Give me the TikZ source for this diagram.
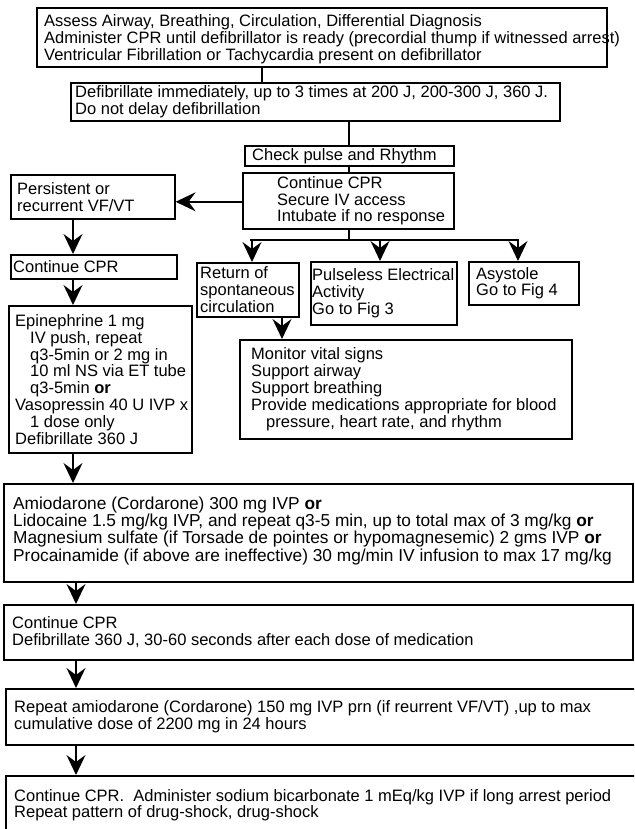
\documentclass[tikz,border=0pt]{standalone}
\usepackage{fontspec}
\setmainfont{Liberation Sans}
\usetikzlibrary{arrows.meta}
\tikzset{
  box/.style={draw, line width=1.6pt, rectangle, anchor=north west, inner sep=0pt},
  txt/.style={anchor=west, align=left, inner sep=0pt, font=\fontsize{16.5}{16.8}\selectfont},
  bigtxt/.style={txt, font=\fontsize{17.3}{17.2}\selectfont},
  ln/.style={line width=1.6pt},
  arr/.style={line width=1.6pt, -{Stealth[length=20pt,width=19pt,inset=7pt]}}
}
\begin{document}
\begin{tikzpicture}[x=1pt,y=-1pt]
\useasboundingbox (0,0) rectangle (634,829);
\clip (0,0) rectangle (634,829);
% boxes
\node[box, minimum width=570pt, minimum height=59pt] (assess) at (36,7) {};
\node[box, minimum width=489pt, minimum height=38pt] (defib) at (70,82) {};
\node[box, minimum width=209pt, minimum height=20pt] (check) at (244,145) {};
\node[box, minimum width=211pt, minimum height=56pt] (cont) at (242,172) {};
\node[box, minimum width=164pt, minimum height=44pt] (persist) at (10,174) {};
\node[box, minimum width=166pt, minimum height=24pt] (cprL) at (10,254) {};
\node[box, minimum width=183pt, minimum height=147pt] (epi) at (8,305) {};
\node[box, minimum width=629pt, minimum height=98pt] (amio) at (3,483) {};
\node[box, minimum width=629pt, minimum height=55pt] (cpr2) at (3,604) {};
\node[box, minimum width=640pt, minimum height=56pt] (rep) at (5,688) {};
\node[box, minimum width=640pt, minimum height=70pt] (last) at (5,775) {};
\node[box, minimum width=102pt, minimum height=54pt] (ret) at (196,262) {};
\node[box, minimum width=146pt, minimum height=63pt] (pea) at (310,261) {};
\node[box, minimum width=110pt, minimum height=43pt] (asys) at (468,261) {};
\node[box, minimum width=332pt, minimum height=99pt] (mon) at (239,339) {};
% texts
\node[txt] (tassess) at ([xshift=8pt,yshift=-2pt]assess.west) {Assess Airway, Breathing, Circulation, Differential Diagnosis\\Administer CPR until defibrillator is ready (precordial thump if witnessed arrest)\\Ventricular Fibrillation or Tachycardia present on defibrillator};
\node[txt] (tdefib) at ([xshift=5pt]defib.west) {Defibrillate immediately, up to 3 times at 200 J, 200-300 J, 360 J.\\Do not delay defibrillation};
\node[txt] (tcheck) at ([xshift=8pt]check.west) {Check pulse and Rhythm};
\node[txt] (tcont) at ([xshift=35pt]cont.west) {Continue CPR\\Secure IV access\\Intubate if no response};
\node[txt] (tpersist) at ([xshift=7pt]persist.west) {Persistent or\\recurrent VF/VT};
\node[txt] (tcprL) at ([xshift=3pt]cprL.west) {Continue CPR};
\node[txt] (tepi) at ([xshift=7pt]epi.west) {Epinephrine 1 mg\\\hspace*{15pt}IV push, repeat\\\hspace*{15pt}q3-5min or 2 mg in\\\hspace*{15pt}10 ml NS via ET tube\\\hspace*{15pt}q3-5min \textbf{or}\\Vasopressin 40 U IVP x\\\hspace*{15pt}1 dose only\\Defibrillate 360 J};
\node[bigtxt] (tamio) at ([xshift=10pt,yshift=2pt]amio.west) {Amiodarone (Cordarone) 300 mg IVP \textbf{or}\\Lidocaine 1.5 mg/kg IVP, and repeat q3-5 min, up to total max of 3 mg/kg \textbf{or}\\Magnesium sulfate (if Torsade de pointes or hypomagnesemic) 2 gms IVP \textbf{or}\\Procainamide (if above are ineffective) 30 mg/min IV infusion to max 17 mg/kg};
\node[txt] (tcpr2) at ([xshift=9pt]cpr2.west) {Continue CPR\\Defibrillate 360 J, 30-60 seconds after each dose of medication};
\node[txt] (trep) at ([xshift=9pt]rep.west) {Repeat amiodarone (Cordarone) 150 mg IVP prn (if reurrent VF/VT) ,up to max\\cumulative dose of 2200 mg in 24 hours};
\node[txt] (tlast) at ([xshift=9pt]last.north west) [anchor=north west, yshift=-14pt] {Continue CPR.\ \ Administer sodium bicarbonate 1 mEq/kg IVP if long arrest period\\Repeat pattern of drug-shock, drug-shock};
\node[txt] (tret) at ([xshift=4pt]ret.west) {Return of\\spontaneous\\circulation};
\node[txt] (tpea) at ([xshift=2pt]pea.west) {Pulseless Electrical\\Activity\\Go to Fig 3};
\node[txt] (tasys) at ([xshift=8pt]asys.west) {Asystole\\Go to Fig 4};
\node[txt] (tmon) at ([xshift=12pt]mon.west) {Monitor vital signs\\Support airway\\Support breathing\\Provide medications appropriate for blood\\\hspace*{15pt}pressure, heart rate, and rhythm};
% helper coordinates
\coordinate (xa) at (262,0);
\coordinate (xb) at (349,0);
\coordinate (xl) at (73,0);
\coordinate (xm) at (76,0);
\coordinate (xr) at (282,0);
\coordinate (bL) at (250,240);
\coordinate (bR) at (519,240);
\coordinate (b1) at (252,240);
\coordinate (b2) at (380,240);
\coordinate (b3) at (518,240);
\coordinate (bm) at (349,240);
% connectors
\draw[ln] (assess.south -| xa) -- (defib.north -| xa);
\draw[ln] (defib.south -| xb) -- (check.north -| xb);
\draw[ln] (check.south -| xb) -- (cont.north -| xb);
\draw[arr] ([yshift=-1pt]cont.west) -- ([yshift=-1pt]cont.west -| persist.east);
\draw[arr] (persist.south -| xl) -- (cprL.north -| xl);
\draw[arr] (cprL.south -| xl) -- (epi.north -| xl);
\draw[arr] (epi.south -| xl) -- (amio.north -| xl);
\draw[arr] (amio.south -| xm) -- (cpr2.north -| xm);
\draw[arr] (cpr2.south -| xm) -- (rep.north -| xm);
\draw[arr] (rep.south -| xm) -- (last.north -| xm);
\draw[ln] (cont.south -| xb) -- (bm);
\draw[ln] (bL) -- (bR);
\draw[arr] (b1) -- (ret.north -| b1);
\draw[arr] (b2) -- (pea.north -| b2);
\draw[arr] (b3) -- (asys.north -| b3);
\draw[arr] (ret.south -| xr) -- (mon.north -| xr);
\end{tikzpicture}
\end{document}
